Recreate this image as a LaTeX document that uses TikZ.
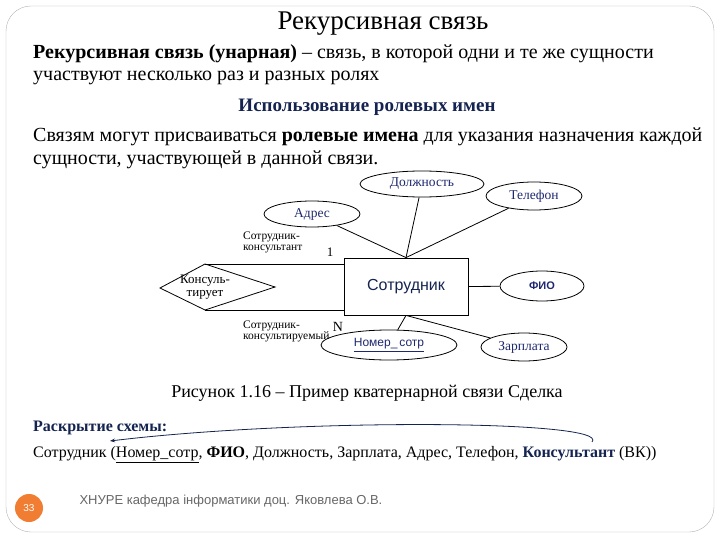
\documentclass[tikz,border=0pt]{standalone}
\usepackage{fontspec}
\setmainfont{Liberation Serif}
\setsansfont{Liberation Sans}
\usetikzlibrary{shapes.geometric,arrows.meta}
\definecolor{dblue}{RGB}{20,35,80}
\definecolor{lblue}{RGB}{30,40,110}
\definecolor{orng}{RGB}{240,125,50}
\begin{document}
\begin{tikzpicture}[x=1pt,y=-1pt,
  attr/.style={draw,ellipse,thick,inner sep=0pt,font=\fontsize{13.5}{14}\selectfont,text=lblue},
  conn/.style={thick},
  body/.style={anchor=west,font=\fontsize{20}{22}\selectfont,inner sep=0pt},
  role/.style={anchor=north west,align=left,font=\fontsize{11.5}{11}\selectfont,inner sep=0pt}]
\useasboundingbox (0,0) rectangle (720,540);
\draw[gray!60,rounded corners=25] (6,6) rectangle (714,532);
\node[font=\fontsize{27}{29}\selectfont] (title) at (383,24) {Рекурсивная связь};
\node[body] (l1) at (33,54) {\textbf{Рекурсивная связь (унарная)} – связь, в которой одни и те же сущности};
\node[body] (l2) at (33,78) {участвуют несколько раз и разных ролях};
\node[font=\fontsize{19}{21}\selectfont\bfseries,text=dblue] (l3) at (367,107) {Использование ролевых имен};
\node[body] (l4) at (33,137) {Связям могут присваиваться \textbf{ролевые имена} для указания назначения каждой};
\node[body] (l5) at (33,160) {сущности, участвующей в данной связи.};
% diagram
\node[attr,minimum width=124pt,minimum height=26pt] (dol) at (422,184) {Должность};
\node[attr,minimum width=96pt,minimum height=28pt] (tel) at (534,196) {Телефон};
\node[attr,minimum width=96pt,minimum height=26pt] (adr) at (312,214) {Адрес};
\node[draw,thick,minimum width=124pt,minimum height=57pt,font=\sffamily\fontsize{16}{18}\selectfont,text=dblue] (emp) at (406,286.5) {Сотрудник};
\node[attr,minimum width=84pt,minimum height=30pt,font=\sffamily\bfseries\fontsize{11}{12}\selectfont] (fio) at (542,286) {ФИО};
\node[attr,minimum width=136pt,minimum height=30pt,font=\sffamily\fontsize{12}{13}\selectfont] (nom) at (389,345) {\underline{Номер\_\,сотр}};
\node[attr,minimum width=86pt,minimum height=28pt] (zar) at (524,347) {Зарплата};
\coordinate (dl) at (160,288);
\coordinate (dt) at (205,264);
\coordinate (dr) at (275,287);
\coordinate (db) at (205,310);
\draw[thick] (dl) -- (dt) -- (dr) -- (db) -- cycle;
\node[align=center,font=\fontsize{13}{13}\selectfont,inner sep=0pt] (kons) at (205,287) {Консуль-\\тирует};
\draw[conn] (dt) -- (emp.north west |- dt);
\draw[conn] (db) -- (emp.south west |- db);
\draw[conn] (adr) -- (emp.north);
\draw[conn] (dol) -- (emp.north);
\draw[conn] (tel) -- (emp.north);
\draw[conn] (emp.east) -- (fio);
\draw[conn] (emp.south) -- (nom);
\draw[conn] (emp.south) -- (zar);
\node[role] (r1) at (243,232) {Сотрудник-\\консультант};
\node[font=\fontsize{13}{13}\selectfont] (one) at (330,252) {1};
\node[role] (r2) at (243,321) {Сотрудник-\\консультируемый};
\node[font=\fontsize{14}{14}\selectfont] (nn) at (338,327) {N};
\node[font=\fontsize{18}{20}\selectfont] (cap) at (367,393) {Рисунок 1.16 – Пример кватернарной связи Сделка};
\node[body,font=\fontsize{16}{18}\selectfont\bfseries,text=dblue] (rs) at (33,428) {Раскрытие схемы:};
\node[body,font=\fontsize{16}{18}\selectfont] (rel) at (33,455) {Сотрудник (\underline{Номер\_сотр}, \textbf{ФИО}, Должность, Зарплата, Адрес, Телефон, \textbf{\color{dblue}Консультант} (ВК))};
\coordinate (as) at (592,442);
\coordinate (ae) at (110,441);
\draw[thick,dblue,-{Stealth[length=5pt]}] (as) .. controls (612,420) and (300,418) .. (ae);
\node[circle,fill=orng,minimum size=28pt,inner sep=0pt,text=white,font=\sffamily\fontsize{10}{11}\selectfont] (pg) at (29,508) {33};
\node[anchor=west,text=gray!80!black,font=\sffamily\fontsize{13}{14}\selectfont] (ft) at (76,501) {ХНУРЕ кафедра інформатики доц. Яковлева О.В.};
\end{tikzpicture}
\end{document}
